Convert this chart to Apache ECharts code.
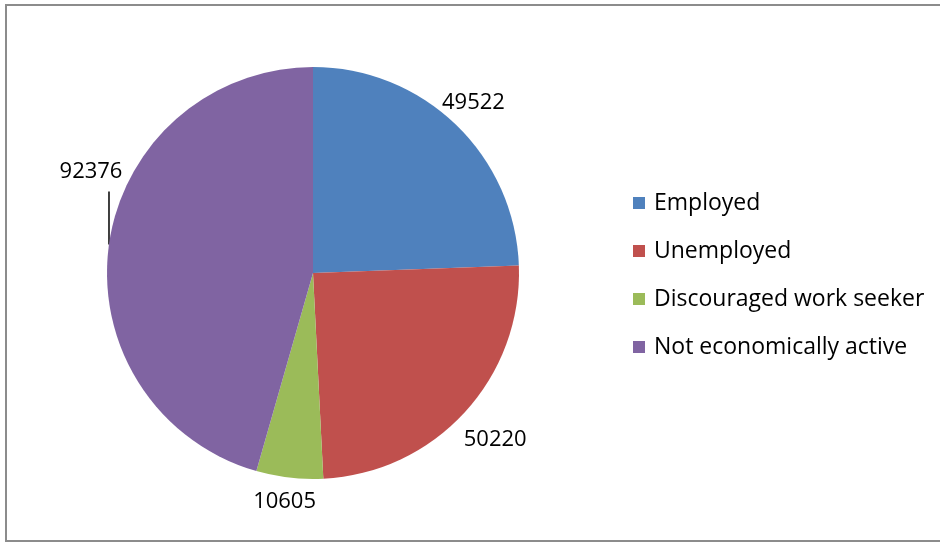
<!DOCTYPE html>
<html>
<head>
<meta charset="utf-8">
<script src="https://cdn.jsdelivr.net/npm/echarts@6/dist/echarts.min.js"></script>
<style>
  html, body { margin: 0; padding: 0; background: #fff; }
  #chart { width: 940px; height: 543px; }
</style>
</head>
<body>
<div id="chart"></div>
<script>
// Population by labour-market status
const categories = ['Employed', 'Unemployed', 'Discouraged work seeker', 'Not economically active'];
const values = [49522, 50220, 10605, 92376];
const colors = ['#4F81BD', '#C0504D', '#9BBB59', '#8064A2'];

const FONT = '"Open Sans", sans-serif';
const CX = 313, CY = 273, R = 206;
// Distance of each value label beyond the rim
const labelGap = [28, 44, 26, 0];

const total = values.reduce((a, b) => a + b, 0);
// Mid-angle of each slice, measured clockwise from 12 o'clock
const midAngles = [];
let acc = 0;
values.forEach(v => {
  midAngles.push(((acc + v / 2) / total) * 2 * Math.PI);
  acc += v;
});

const chart = echarts.init(document.getElementById('chart'), null, { renderer: 'canvas' });

chart.setOption({
  animation: false,
  backgroundColor: '#fff',
  graphic: [{
    type: 'rect',
    shape: { x: 6, y: 5, width: 960, height: 536 },
    style: { fill: 'none', stroke: '#8c8c8c', lineWidth: 2 },
    silent: true
  }],
  legend: {
    orient: 'vertical',
    left: 633,
    top: 191,
    padding: 0,
    itemWidth: 12,
    itemHeight: 12,
    itemGap: 24,
    icon: 'rect',
    textStyle: { fontFamily: FONT, fontSize: 23, color: '#000', lineHeight: 24, padding: [0, 0, 0, 4] },
    data: categories
  },
  series: [{
    type: 'pie',
    center: [CX, CY],
    radius: R,
    startAngle: 90,
    clockwise: true,
    avoidLabelOverlap: false,
    itemStyle: { borderWidth: 0 },
    label: {
      show: true,
      position: 'outside',
      formatter: '{c}',
      fontFamily: FONT,
      fontSize: 22,
      color: '#000'
    },
    labelLine: { show: false, lineStyle: { color: '#000', width: 1.5 } },
    labelLayout: function (p) {
      const i = p.dataIndex;
      const a = midAngles[i];
      const ux = Math.sin(a), uy = -Math.cos(a);
      if (i === 3) {
        // Leader line rises vertically from the rim; label sits above-left of it
        const ax = CX + ux * R, ay = CY + uy * R;
        const topY = ay - 53;
        return {
          x: ax - 18, y: topY - 20,
          align: 'center', verticalAlign: 'middle',
          labelLinePoints: [[ax, ay], [ax, topY], [ax, topY]]
        };
      }
      const d = R + labelGap[i];
      return {
        x: CX + ux * d - 2, y: CY + uy * d - 2,
        align: 'center', verticalAlign: 'middle'
      };
    },
    data: categories.map((name, i) => ({
      name: name,
      value: values[i],
      itemStyle: { color: colors[i] },
      labelLine: { show: i === 3, length: 10, length2: 10 }
    }))
  }]
});
</script>
</body>
</html>
